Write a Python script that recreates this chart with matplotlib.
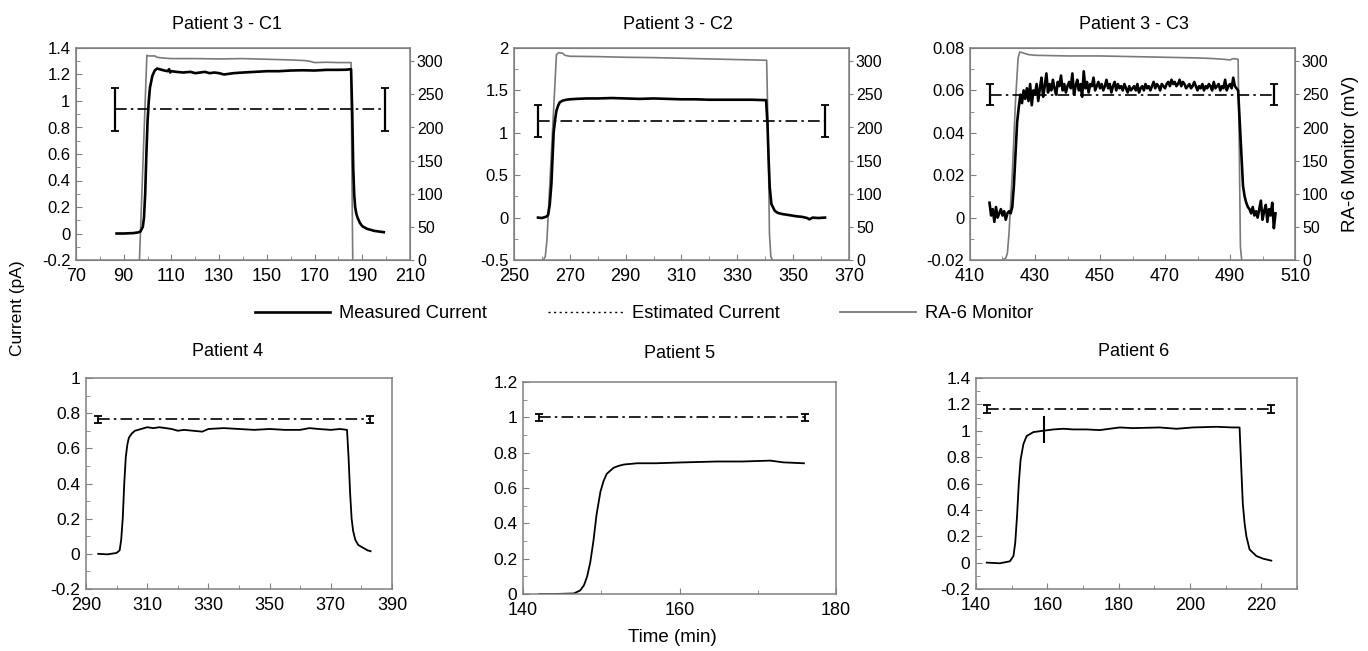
import matplotlib
matplotlib.use("Agg")
import matplotlib.pyplot as plt
from matplotlib.lines import Line2D
from matplotlib.ticker import MultipleLocator, FuncFormatter

plt.rcParams['font.family'] = ['Liberation Sans', 'DejaVu Sans']

W, H = 1368, 651

# ---------------- DATA ----------------
titles = ["Patient 3 - C1", "Patient 3 - C2", "Patient 3 - C3", "Patient 4", "Patient 5", "Patient 6"]

# Patient 3 - C1
c1_t = [87, 90, 94, 96, 97, 98, 98.5, 99, 99.5, 100, 100.5, 101, 102, 103, 104, 105, 107, 108.5, 109, 109.5, 110,
        112, 115, 118, 120, 122, 124, 126, 128, 130, 132, 134, 136, 140, 145, 150, 155, 160, 165, 170, 175, 180,
        183, 185.3, 185.8, 186.2, 186.6, 187, 187.5, 188, 189, 190, 192, 195, 197, 199]
c1_i = [0.0, 0.0, 0.003, 0.008, 0.015, 0.05, 0.12, 0.3, 0.6, 0.85, 1.0, 1.1, 1.19, 1.23, 1.245, 1.24, 1.23, 1.225,
        1.24, 1.215, 1.225, 1.22, 1.215, 1.22, 1.21, 1.215, 1.22, 1.21, 1.215, 1.21, 1.2, 1.205, 1.21, 1.215, 1.22,
        1.225, 1.225, 1.23, 1.232, 1.23, 1.235, 1.235, 1.236, 1.24, 0.9, 0.5, 0.3, 0.2, 0.15, 0.12, 0.08, 0.055,
        0.035, 0.02, 0.015, 0.01]
c1_mon_t = [96.6, 99.7, 100.5, 103, 104, 106, 110, 120, 130, 140, 150, 160, 166, 168, 170, 175, 180, 185.3, 185.6, 186.0]
c1_mon_v = [0, 309, 308, 308, 306, 305, 304, 304, 303.5, 304, 303, 302, 301, 300, 298, 298.5, 298, 298, 150, 0]
c1_est = 0.937
c1_est_t = [86.3, 199.5]
c1_err = 0.162

# Patient 3 - C2
c2_t = [258.6, 260, 261.5, 262.2, 262.8, 263.4, 263.8, 264.2, 264.7, 265.2, 265.8, 266.4, 267.5, 268.8, 270,
        272.3, 276, 280, 285, 290, 295, 300, 305, 310, 315, 320, 325, 330, 335, 340.3, 340.8, 341.2, 341.6,
        342.2, 343.4, 344.5, 346.4, 348.5, 351.2, 353, 355, 355.8, 357, 359, 361.4]
c2_i = [0.0, -0.005, 0.01, 0.03, 0.15, 0.4, 0.7, 1.0, 1.15, 1.26, 1.32, 1.36, 1.38, 1.39, 1.395, 1.40, 1.405,
        1.405, 1.41, 1.405, 1.40, 1.405, 1.40, 1.395, 1.395, 1.39, 1.39, 1.39, 1.39, 1.385, 1.1, 0.7, 0.36, 0.16,
        0.08, 0.055, 0.04, 0.03, 0.015, 0.01, -0.005, -0.02, 0.0, -0.005, 0.0]
c2_mon_t = [260.5, 261.2, 261.8, 265.2, 266, 267.5, 268.2, 270, 280, 290, 300, 310, 320, 330, 340.5, 341.0,
            341.5, 342.0, 342.6]
c2_mon_v = [0, 5, 30, 310, 313, 312, 309, 307.5, 307, 306, 305.5, 304.5, 303.5, 302.5, 301.5, 200, 40, 5, 0]
c2_est = 1.138
c2_est_t = [258.6, 361.4]
c2_err = 0.192

# Patient 3 - C3 (noisy)
c3_t = [416.0, 416.5, 417.0, 417.5, 418.0, 418.5, 419.0, 419.5, 420.0, 420.5, 421.0, 421.5, 422.0, 422.5,
        423.0, 423.5, 424.0, 424.5, 425.0, 425.5, 426.0, 426.5, 427.0, 427.5, 428.0, 428.5, 429.0, 429.5,
        430.0, 430.5, 431.0, 431.5, 432.0, 432.5, 433.0, 433.5, 434.0, 434.5, 435.0, 435.5, 436.0, 436.5,
        437.0, 437.5, 438.0, 438.5, 439.0, 439.5, 440.0,
        440.5, 441.0, 441.5, 442.0, 442.5, 443.0, 443.5, 444.0, 444.5, 445.0, 445.5, 446.0, 446.5, 447.0,
        447.5, 448.0, 448.5, 449.0, 449.5, 450.0,
        450.5, 451.0, 451.5, 452.0, 452.5, 453.0, 453.5, 454.0, 454.5, 455.0, 455.5, 456.0, 456.5, 457.0,
        457.5, 458.0, 458.5, 459.0, 459.5, 460.0,
        460.5, 461.0, 461.5, 462.0, 462.5, 463.0, 463.5, 464.0, 464.5, 465.0, 465.5, 466.0, 466.5, 467.0,
        467.5, 468.0, 468.5, 469.0, 469.5, 470.0,
        470.5, 471.0, 471.5, 472.0, 472.5, 473.0, 473.5, 474.0, 474.5, 475.0, 475.5, 476.0, 476.5, 477.0,
        477.5, 478.0, 478.5, 479.0, 479.5, 480.0,
        480.5, 481.0, 481.5, 482.0, 482.5, 483.0, 483.5, 484.0, 484.5, 485.0, 485.5, 486.0, 486.5, 487.0,
        487.5, 488.0, 488.5, 489.0, 489.5, 490.0, 490.5, 491.0, 491.5, 492.0,
        492.5, 493.0, 493.5, 494.0, 494.5, 495.0, 495.5, 496.0, 496.5, 497.0, 497.5, 498.0, 498.5, 499.0,
        499.5, 500.0, 500.5, 501.0, 501.5, 502.0, 502.5, 503.0, 503.5, 504.0]
c3_i = [0.007, 0.001, 0.004, -0.002, 0.005, 0.0, 0.002, 0.004, 0.001, 0.003, -0.001, 0.002, 0.003, 0.002,
        0.005, 0.015, 0.03, 0.045, 0.052, 0.058, 0.054, 0.06, 0.056, 0.061, 0.055, 0.063, 0.053, 0.06,
        0.058, 0.063, 0.055, 0.061, 0.066, 0.057, 0.062, 0.068, 0.059, 0.063, 0.060, 0.065, 0.061, 0.058,
        0.064, 0.062, 0.067, 0.060, 0.063, 0.059, 0.062,
        0.064, 0.061, 0.068, 0.058, 0.062, 0.065, 0.060, 0.063, 0.057, 0.069, 0.061, 0.064, 0.059, 0.063,
        0.062, 0.066, 0.060, 0.062, 0.064, 0.061,
        0.063, 0.060, 0.062, 0.065, 0.061, 0.063, 0.059, 0.062, 0.064, 0.060, 0.063, 0.061, 0.062, 0.060,
        0.063, 0.061, 0.059, 0.062, 0.060, 0.061,
        0.062, 0.060, 0.063, 0.059, 0.061, 0.062, 0.060, 0.063, 0.061, 0.062, 0.060, 0.062, 0.064, 0.061,
        0.063, 0.062, 0.060, 0.063, 0.062, 0.061,
        0.063, 0.064, 0.062, 0.065, 0.063, 0.064, 0.062, 0.063, 0.065, 0.062, 0.064, 0.063, 0.061, 0.062,
        0.063, 0.061, 0.062, 0.064, 0.062, 0.060,
        0.062, 0.061, 0.063, 0.060, 0.062, 0.061, 0.063, 0.062, 0.060, 0.064, 0.061, 0.062, 0.063, 0.060,
        0.062, 0.061, 0.065, 0.060, 0.062, 0.063, 0.061, 0.066, 0.062, 0.061,
        0.060, 0.045, 0.030, 0.015, 0.010, 0.007, 0.005, 0.004, 0.002, 0.005, 0.001, 0.003, 0.0, 0.004,
        0.008, -0.001, 0.003, 0.006, -0.002, 0.004, 0.001, 0.007, -0.005, 0.002]
c3_mon_t = [420.0, 421.0, 421.5, 422.0, 423.0, 424.0, 424.8, 425.3, 426.0, 428.0, 430.0, 440, 450, 460, 470, 480,
            485, 488, 490, 491, 492.5, 492.9, 493.2, 493.6]
c3_mon_v = [0, 3, 10, 40, 130, 240, 305, 314, 313, 310, 309, 308, 308, 307, 306, 305, 304, 303, 302, 304, 303,
            150, 20, 0]
c3_est = 0.058
c3_est_t = [416.2, 503.5]
c3_err = 0.005

# Patient 4
p4_t = [294, 297, 300, 301, 301.5, 302, 302.5, 303, 303.5, 304, 305, 306, 308, 310, 312, 314, 316, 318, 320, 322,
        325, 328, 330, 335, 340, 345, 350, 355, 360, 363, 366, 370, 373, 375.3, 375.8, 376.3, 376.8, 377.3,
        378, 379, 380, 382, 383]
p4_i = [0.0, -0.003, 0.005, 0.02, 0.08, 0.2, 0.4, 0.55, 0.62, 0.66, 0.685, 0.70, 0.71, 0.72, 0.715, 0.72, 0.715,
        0.71, 0.70, 0.705, 0.70, 0.695, 0.71, 0.715, 0.71, 0.705, 0.71, 0.705, 0.705, 0.715, 0.71, 0.705, 0.71,
        0.705, 0.55, 0.35, 0.2, 0.13, 0.08, 0.05, 0.04, 0.02, 0.015]
p4_est = 0.764
p4_est_t = [294, 382.8]
p4_err = 0.02

# Patient 5
p5_t = [142.1, 144, 146.5, 147.3, 147.8, 148.2, 148.6, 149.0, 149.4, 149.9, 150.3, 150.7, 151.2, 151.6, 152.2,
        152.9, 154.6, 157, 160.5, 164.8, 168, 171.6, 173.3, 175.9]
p5_i = [0.0, 0.0, 0.003, 0.02, 0.05, 0.1, 0.18, 0.3, 0.45, 0.58, 0.64, 0.68, 0.70, 0.715, 0.725, 0.733, 0.74,
        0.74, 0.745, 0.75, 0.75, 0.755, 0.745, 0.74]
p5_est = 1.0
p5_est_t = [142.1, 176.1]
p5_err = 0.02

# Patient 6
p6_t = [143, 146.7, 149.5, 150.5, 151.0, 151.5, 152.0, 152.5, 153.3, 154.2, 156.1, 158.9, 161.7, 164.5, 167.3,
        171, 174.7, 180.3, 184, 191.5, 196.2, 200.8, 207.4, 212, 213.9, 214.4, 214.8, 215.3, 215.8, 216.7,
        218.6, 220.5, 222.8]
p6_i = [0.0, -0.005, 0.01, 0.05, 0.15, 0.35, 0.6, 0.78, 0.9, 0.96, 0.99, 1.0, 1.01, 1.015, 1.01, 1.01, 1.005,
        1.025, 1.02, 1.025, 1.015, 1.025, 1.03, 1.025, 1.025, 0.7, 0.45, 0.3, 0.2, 0.1, 0.05, 0.03, 0.015]
p6_est = 1.164
p6_est_t = [143, 222.8]
p6_err = 0.028
p6_pt_t = [159.0]
p6_pt_i = [1.01]
p6_pt_err = [0.1]

xlims = [(70, 210), (250, 370), (410, 510), (290, 390), (140, 180), (140, 230)]
ylims = [(-0.2, 1.4), (-0.5, 2.0), (-0.02, 0.08), (-0.2, 1.0), (0, 1.2), (-0.2, 1.4)]
xticks = [[70, 90, 110, 130, 150, 170, 190, 210],
          [250, 270, 290, 310, 330, 350, 370],
          [410, 430, 450, 470, 490, 510],
          [290, 310, 330, 350, 370, 390],
          [140, 160, 180],
          [140, 160, 180, 200, 220]]
xmin = [10, 10, 10, 10, 10, 10]
ymaj = [0.2, 0.5, 0.02, 0.2, 0.2, 0.2]
ymin = [0.1, 0.25, 0.01, 0.1, 0.1, 0.1]
mon_lim = (0, 320)

# ---------------- LAYOUT ----------------
boxes = [(76, 410, 48, 260), (514, 849, 48, 260), (970, 1295, 48, 260),
         (86, 392, 378, 589), (523, 836, 382, 594), (976, 1297, 378, 589)]
title_x = [0.452, 0.49, 0.505, 0.464, 0.5, 0.49]
title_pad = [14, 14, 14, 16, 17, 16]

fig = plt.figure(figsize=(W / 100, H / 100), dpi=100)
spine_c = '#808080'


def fmt(v, pos=None):
    s = ('%.2f' % v).rstrip('0').rstrip('.')
    if s == '-0':
        s = '0'
    return s


meas = [(c1_t, c1_i), (c2_t, c2_i), (c3_t, c3_i), (p4_t, p4_i), (p5_t, p5_i), (p6_t, p6_i)]
mons = [(c1_mon_t, c1_mon_v), (c2_mon_t, c2_mon_v), (c3_mon_t, c3_mon_v)]
ests = [(c1_est_t, c1_est, c1_err), (c2_est_t, c2_est, c2_err), (c3_est_t, c3_est, c3_err),
        (p4_est_t, p4_est, p4_err), (p5_est_t, p5_est, p5_err), (p6_est_t, p6_est, p6_err)]

dashdot = (0, (7, 2.5, 1.5, 2.5))

for k in range(6):
    l, r, t, b = boxes[k]
    ax = fig.add_axes([l / W, 1 - b / H, (r - l) / W, (b - t) / H])
    top = k < 3
    lw_meas = 1.9 if top else 1.3
    if top:
        ax2 = ax.twinx()
        mt, mv = mons[k]
        ax2.plot(mt, mv, color='#7a7a7a', lw=1.2, zorder=1)
        ax2.set_ylim(*mon_lim)
        ax2.yaxis.set_major_locator(MultipleLocator(50))
        ax2.tick_params(axis='y', direction='out', length=3, color=spine_c, labelsize=11.5, pad=2)
        for s in ax2.spines.values():
            s.set_color(spine_c)
        if k == 2:
            ax2.set_ylabel('RA-6 Monitor (mV)', fontsize=13.5, labelpad=10)
        ax.set_zorder(ax2.get_zorder() + 1)
        ax.patch.set_visible(False)
    et, ev, ee = ests[k]
    ax.plot(et, [ev, ev], color='black', lw=1.2, linestyle=dashdot)
    ax.errorbar(et, [ev, ev], yerr=[ee, ee], fmt='none', ecolor='black',
                elinewidth=1.6 if top else 1.3, capsize=3, capthick=1.3)
    mt, mi = meas[k]
    ax.plot(mt, mi, color='black', lw=lw_meas)
    if k == 5:
        ax.errorbar(p6_pt_t, p6_pt_i, yerr=p6_pt_err, fmt='none', ecolor='black', elinewidth=1.5, capsize=0)
    ax.set_xlim(*xlims[k])
    ax.set_ylim(*ylims[k])
    ax.set_xticks(xticks[k])
    ax.xaxis.set_minor_locator(MultipleLocator(xmin[k]))
    ax.yaxis.set_major_locator(MultipleLocator(ymaj[k]))
    ax.yaxis.set_minor_locator(MultipleLocator(ymin[k]))
    ax.yaxis.set_major_formatter(FuncFormatter(fmt))
    ax.xaxis.set_major_formatter(FuncFormatter(fmt))
    ax.tick_params(which='major', direction='in', length=4, color=spine_c, top=False, right=False)
    ax.tick_params(which='minor', direction='in', length=3, color=spine_c, top=False, right=False)
    ax.tick_params(axis='y', labelsize=12.5 if not top else 12, pad=4)
    ax.tick_params(axis='x', labelsize=13, pad=6)
    for s in ax.spines.values():
        s.set_color(spine_c)
        s.set_linewidth(1.1)
    ax.set_title(titles[k], fontsize=13, pad=title_pad[k], x=title_x[k])

fig.text(18 / W, 1 - 308 / H, 'Current (pA)', rotation=90, ha='center', va='center', fontsize=12.5)
fig.text(672 / W, 1 - 638 / H, 'Time (min)', ha='center', va='center', fontsize=13.5)

handles = [Line2D([], [], color='black', lw=1.9),
           Line2D([], [], color='black', lw=1.0, linestyle=(0, (1.5, 2.5))),
           Line2D([], [], color='#7a7a7a', lw=1.3)]
fig.legend(handles, ['Measured Current', 'Estimated Current', 'RA-6 Monitor'], ncol=3, frameon=False,
           loc='center', bbox_to_anchor=(644 / W, 1 - 314 / H), fontsize=13.2, handlelength=4.1,
           columnspacing=3.3, handletextpad=0.5)

fig.savefig('out.png', dpi=100)
